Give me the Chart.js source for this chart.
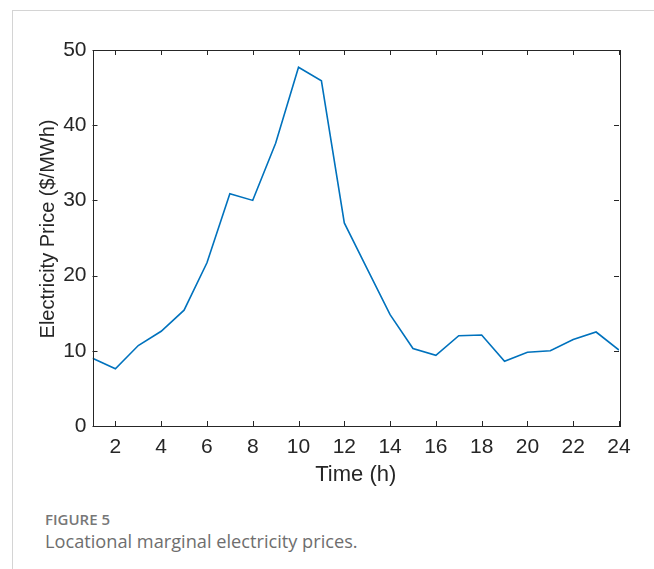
<!DOCTYPE html>
<html>
<head>
<meta charset="utf-8">
<script src="https://cdn.jsdelivr.net/npm/chart.js@4"></script>
<style>
  html, body { margin: 0; padding: 0; background: #fff; }
  body { width: 654px; height: 569px; position: relative; overflow: hidden; }
  .frame { position: absolute; left: 12px; top: 10px; right: -2px; bottom: -2px;
           border-left: 1px solid #d4d4d4; border-top: 1px solid #d4d4d4; }
  #wrap { position: absolute; left: 0; top: 0; width: 654px; height: 500px; }
  .fig-label { position: absolute; left: 45px; top: 509px; font-family: "Open Sans", sans-serif;
               font-weight: 600; font-size: 15px; color: #777; }
  .fig-caption { position: absolute; left: 45px; top: 529px; font-family: "Open Sans", sans-serif;
                 font-size: 18.2px; color: #6e6e6e; }
</style>
</head>
<body>
<div class="frame"></div>
<div id="wrap"><canvas id="chart" width="654" height="500"></canvas></div>
<div class="fig-label">FIGURE 5</div>
<div class="fig-caption">Locational marginal electricity prices.</div>
<script>
// Hourly locational marginal prices ($/MWh)
const hours = [1, 2, 3, 4, 5, 6, 7, 8, 9, 10, 11, 12, 13, 14, 15, 16, 17, 18, 19, 20, 21, 22, 23, 24];
const prices = [9.0, 7.6, 10.7, 12.6, 15.4, 21.7, 30.9, 30.0, 37.6, 47.7, 45.9, 27.0,
                20.9, 14.8, 10.3, 9.4, 12.0, 12.1, 8.6, 9.8, 10.0, 11.5, 12.5, 10.1];
const xTickValues = [2, 4, 6, 8, 10, 12, 14, 16, 18, 20, 22, 24];
const yTickValues = [0, 10, 20, 30, 40, 50];
const yTitle = 'Electricity Price ($/MWh)';

const axisColor = '#262626';
const fontFamily = '"Liberation Sans", Arial, sans-serif';
const tickFont = { family: fontFamily, size: 21 };
const titleFont = { family: fontFamily, size: 22 };

// Box around the plot area with inward tick marks on all four sides,
// plus the vertical axis label placed beside the tick labels
const boxAxes = {
  id: 'boxAxes',
  afterDatasetsDraw(chart) {
    const { ctx, chartArea: a, scales } = chart;
    const len = 5;
    ctx.save();
    ctx.strokeStyle = axisColor;
    ctx.lineWidth = 1;
    ctx.beginPath();
    scales.x.ticks.forEach(t => {
      const px = Math.round(scales.x.getPixelForValue(t.value)) + 0.5;
      ctx.moveTo(px, a.bottom); ctx.lineTo(px, a.bottom - len);
      ctx.moveTo(px, a.top); ctx.lineTo(px, a.top + len);
    });
    scales.y.ticks.forEach(t => {
      const py = Math.round(scales.y.getPixelForValue(t.value)) + 0.5;
      ctx.moveTo(a.left, py); ctx.lineTo(a.left + len, py);
      ctx.moveTo(a.right, py); ctx.lineTo(a.right - len, py);
    });
    ctx.stroke();
    ctx.strokeRect(Math.round(a.left) + 0.5, Math.round(a.top) + 0.5,
                   Math.round(a.right - a.left), Math.round(a.bottom - a.top));

    ctx.fillStyle = axisColor;
    ctx.font = '20px ' + fontFamily;
    ctx.translate(54, scales.y.getPixelForValue(26.2));
    ctx.rotate(-Math.PI / 2);
    ctx.textAlign = 'center';
    ctx.textBaseline = 'alphabetic';
    ctx.fillText(yTitle, 0, 0);
    ctx.restore();
  }
};

new Chart(document.getElementById('chart'), {
  type: 'line',
  data: {
    datasets: [{
      data: hours.map((h, i) => ({ x: h, y: prices[i] })),
      borderColor: '#0072BD',
      borderWidth: 1.6,
      pointRadius: 0,
      tension: 0,
      fill: false
    }]
  },
  options: {
    responsive: false,
    animation: false,
    layout: { padding: { left: 0, top: 50, right: 35, bottom: 0 } },
    plugins: { legend: { display: false }, tooltip: { enabled: false } },
    scales: {
      x: {
        type: 'linear',
        min: 1, max: 24,
        afterBuildTicks: s => { s.ticks = xTickValues.map(v => ({ value: v })); },
        afterFit: s => { s.height = 74; },
        grid: { display: false, drawTicks: false },
        border: { display: false },
        ticks: { color: axisColor, font: tickFont, padding: 9, maxRotation: 0 },
        title: { display: true, text: 'Time (h)', color: axisColor, font: titleFont,
                 padding: { top: 0, bottom: 12 } }
      },
      y: {
        type: 'linear',
        min: 0, max: 50,
        afterBuildTicks: s => { s.ticks = yTickValues.map(v => ({ value: v })); },
        afterFit: s => { s.width = 92.5; },
        grid: { display: false, drawTicks: false },
        border: { display: false },
        ticks: { color: axisColor, font: tickFont, padding: 6 },
        title: { display: false }
      }
    }
  },
  plugins: [boxAxes]
});
</script>
</body>
</html>
